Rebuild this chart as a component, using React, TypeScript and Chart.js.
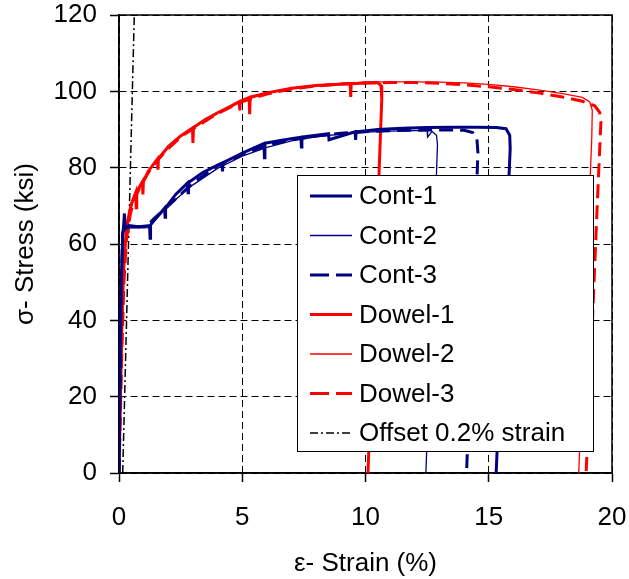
import React, { useEffect, useRef } from 'react';
import { Chart, registerables } from 'chart.js';

Chart.register(...registerables);

// ---- Data (strain %, stress ksi) ----
const cont1Strain = [0, 0.05, 0.1, 0.15, 0.2, 0.22, 0.25, 0.4, 0.8, 1.24, 1.26, 1.28, 1.6, 1.85, 1.87, 1.89, 2.3, 2.78, 2.8, 2.82, 3.4, 4.0, 4.18, 4.2, 4.22, 5.0, 5.88, 5.9, 5.92, 6.6, 7.38, 7.4, 7.42, 8.5, 8.52, 9.58, 9.6, 9.62, 10.5, 11.5, 12.5, 13.5, 14.5, 15.3, 15.7, 15.85, 15.87, 15.3];
const cont1Stress = [0, 30, 52, 62, 66, 68, 64, 64.8, 64.5, 64.8, 61.5, 65, 67.5, 69.4, 67, 69.5, 73, 76, 73.4, 76.1, 78.7, 80.7, 81.2, 79, 81.3, 83.8, 86.3, 82.6, 86.4, 87.2, 88, 85.4, 88, 88.9, 87.3, 89.4, 87.3, 89.4, 90, 90.3, 90.5, 90.6, 90.6, 90.5, 90.2, 88.5, 85, 0];

const cont2Strain = [0, 0.05, 0.12, 0.2, 0.5, 1.2, 1.5, 2.0, 3.0, 4.0, 5.0, 6.0, 7.0, 8.0, 9.0, 10.0, 11.0, 12.0, 12.5, 12.52, 12.7, 12.88, 12.92, 12.45];
const cont2Stress = [0, 35, 60, 64, 64.2, 64.3, 66.5, 70, 75.5, 79.8, 83, 85.3, 87, 88.1, 88.8, 89.3, 89.6, 89.7, 89.7, 88, 89.5, 88.5, 86, 0];

const cont3Strain = [0, 0.08, 0.15, 0.3, 1.1, 1.4, 2.0, 3.0, 4.0, 5.0, 6.0, 7.0, 8.0, 9.0, 10.0, 11.0, 12.0, 13.0, 14.0, 14.35, 14.52, 14.56, 14.1];
const cont3Stress = [0, 45, 63, 64.5, 64.5, 66.5, 70, 76, 80.5, 83.5, 85.8, 87.3, 88.3, 89, 89.4, 89.7, 89.8, 89.9, 89.8, 89.2, 87.5, 84, 0];

const dowel1Strain = [0, 0.06, 0.12, 0.18, 0.25, 0.35, 0.5, 0.68, 0.7, 0.72, 0.95, 0.97, 0.99, 1.2, 1.56, 1.58, 1.6, 2.0, 2.5, 2.98, 3.0, 3.02, 3.5, 4.0, 4.5, 4.88, 4.9, 4.92, 5.28, 5.3, 5.32, 6.0, 7.0, 8.0, 9.38, 9.4, 9.42, 10.0, 10.5, 10.63, 10.66, 10.1];
const dowel1Stress = [0, 20, 40, 52, 60, 66, 70.5, 73.5, 69.5, 73.7, 76.3, 73, 76.4, 79.2, 82.3, 79.5, 82.4, 85.5, 88.3, 90.4, 86.5, 90.5, 92.6, 94.4, 96, 97.3, 95, 97.4, 98.4, 94, 98.5, 99.6, 100.8, 101.5, 102, 98.5, 102, 102.2, 102.3, 101.5, 98, 0];

const dowel2Strain = [0, 0.08, 0.15, 0.22, 0.3, 0.45, 0.6, 0.9, 1.2, 1.5, 2.0, 2.5, 3.0, 4.0, 5.0, 6.0, 7.0, 8.0, 9.0, 10.0, 11.0, 12.0, 13.0, 14.0, 15.0, 16.0, 17.0, 18.0, 18.8, 19.1, 19.2, 19.18, 18.65];
const dowel2Stress = [0, 22, 42, 55, 62, 68, 72, 76, 79, 81.8, 85.3, 88.2, 90.4, 94.3, 97.4, 99.5, 100.8, 101.6, 102.1, 102.4, 102.5, 102.5, 102.4, 102.2, 101.8, 101.2, 100.4, 99.4, 98.4, 97.2, 95, 88, 0];

const dowel3Strain = [0, 0.1, 0.2, 0.3, 0.45, 0.6, 0.9, 1.2, 1.5, 2.0, 2.5, 3.0, 4.0, 5.0, 6.0, 7.0, 8.0, 9.0, 10.0, 11.0, 12.0, 13.0, 14.0, 15.0, 16.0, 17.0, 18.0, 18.8, 19.3, 19.5, 19.55, 19.4, 18.95];
const dowel3Stress = [0, 28, 50, 61, 67.5, 71.5, 75.5, 78.8, 81.5, 85, 88, 90.2, 94.2, 97.3, 99.3, 100.6, 101.4, 101.9, 102.2, 102.3, 102.3, 102.1, 101.7, 101.2, 100.5, 99.6, 98.5, 97.4, 96.2, 94.5, 92, 70, 0];

const offsetStrain = [0.15, 0.62];
const offsetStress = [0, 120];

const seriesLabels = ['Cont-1', 'Cont-2', 'Cont-3', 'Dowel-1', 'Dowel-2', 'Dowel-3', 'Offset 0.2% strain'];
const xTickValues = [0, 5, 10, 15, 20];
const yTickValues = [0, 20, 40, 60, 80, 100, 120];

const NAVY = '#000080';
const RED = '#ff0000';
const FONT = "'Liberation Sans', Arial, sans-serif";

function pts(xs: number[], ys: number[]) {
  return xs.map((x, i) => ({ x, y: ys[i] }));
}

const seriesStyles = [
  { color: NAVY, width: 3, dash: [] as number[], legendDash: [] as number[] },
  { color: NAVY, width: 1.3, dash: [], legendDash: [] },
  { color: NAVY, width: 3, dash: [14, 7], legendDash: [19, 7] },
  { color: RED, width: 3, dash: [], legendDash: [] },
  { color: RED, width: 1.3, dash: [], legendDash: [] },
  { color: RED, width: 3, dash: [14, 7], legendDash: [19, 7] },
  { color: '#000', width: 1.5, dash: [8, 3, 2, 3], legendDash: [8, 3, 2, 3] },
];

const seriesData = [
  pts(cont1Strain, cont1Stress),
  pts(cont2Strain, cont2Stress),
  pts(cont3Strain, cont3Stress),
  pts(dowel1Strain, dowel1Stress),
  pts(dowel2Strain, dowel2Stress),
  pts(dowel3Strain, dowel3Stress),
  pts(offsetStrain, offsetStress),
];

const frameAndLegend = {
  id: 'frameAndLegend',
  beforeDatasetsDraw(chart: any) {
    const { ctx, chartArea: a } = chart;
    ctx.save();
    ctx.strokeStyle = '#000';
    ctx.lineWidth = 1.5;
    ctx.setLineDash([]);
    ctx.strokeRect(a.left, a.top, a.right - a.left, a.bottom - a.top);
    ctx.restore();
  },
  afterDatasetsDraw(chart: any) {
    const { ctx } = chart;
    const bx = 297, by = 175, bw = 296, bh = 276;
    ctx.save();
    ctx.fillStyle = '#fff';
    ctx.fillRect(bx, by, bw, bh);
    ctx.strokeStyle = '#000';
    ctx.lineWidth = 1;
    ctx.strokeRect(bx + 0.5, by + 0.5, bw, bh);
    ctx.font = `26px ${FONT}`;
    ctx.textBaseline = 'middle';
    ctx.textAlign = 'left';
    seriesLabels.forEach((label, i) => {
      const st = seriesStyles[i];
      const cy = 196 + i * 39.5;
      ctx.beginPath();
      ctx.strokeStyle = st.color;
      ctx.lineWidth = st.width;
      ctx.setLineDash(st.legendDash);
      ctx.moveTo(310, cy);
      ctx.lineTo(352, cy);
      ctx.stroke();
      ctx.setLineDash([]);
      ctx.fillStyle = '#000';
      ctx.fillText(label, 359, cy + 1);
    });
    ctx.restore();
  },
};

export default function App() {
  const ref = useRef<HTMLCanvasElement | null>(null);
  useEffect(() => {
    if (!ref.current) return;
    const chart = new Chart(ref.current, {
      type: 'scatter',
      data: {
        datasets: seriesData.map((d, i) => ({
          label: seriesLabels[i],
          data: d,
          showLine: true,
          borderColor: seriesStyles[i].color,
          backgroundColor: seriesStyles[i].color,
          borderWidth: seriesStyles[i].width,
          borderDash: seriesStyles[i].dash,
          pointRadius: 0,
          tension: 0,
          fill: false,
        })),
      },
      options: {
        responsive: false,
        animation: false,
        layout: { padding: { top: 15, right: 17, left: 0, bottom: 0 } },
        plugins: { legend: { display: false }, tooltip: { enabled: false } },
        scales: {
          x: {
            type: 'linear',
            min: 0,
            max: 20,
            afterFit: (s: any) => { s.height = 106; s.paddingLeft = 0; s.paddingRight = 0; s.paddingTop = 0; s.paddingBottom = 0; },
            afterBuildTicks: (s: any) => { s.ticks = xTickValues.map((v) => ({ value: v })); },
            ticks: { font: { family: FONT, size: 26, lineHeight: 1 }, color: '#000', padding: 23, maxRotation: 0, autoSkip: false },
            grid: { color: '#000', lineWidth: 1, tickLength: 9, tickColor: '#000', tickWidth: 1.5, tickBorderDash: [] },
            border: { display: true, color: '#000', width: 1.5, dash: [7, 4] },
            title: { display: true, text: 'ε- Strain (%)', font: { family: FONT, size: 26 }, color: '#000', padding: { top: 0, bottom: 0 } },
          },
          y: {
            type: 'linear',
            min: 0,
            max: 120,
            afterFit: (s: any) => { s.width = 119; s.paddingLeft = 0; s.paddingRight = 0; s.paddingTop = 0; s.paddingBottom = 0; },
            afterBuildTicks: (s: any) => { s.ticks = yTickValues.map((v) => ({ value: v })); },
            ticks: { font: { family: FONT, size: 26, lineHeight: 1 }, color: '#000', padding: 13, autoSkip: false },
            grid: { color: '#000', lineWidth: 1, tickLength: 9, tickColor: '#000', tickWidth: 1.5, tickBorderDash: [] },
            border: { display: true, color: '#000', width: 1.5, dash: [7, 4] },
            title: { display: true, text: 'σ- Stress (ksi)', font: { family: FONT, size: 26 }, color: '#000', padding: { top: 10, bottom: 0 } },
          },
        },
      },
      plugins: [frameAndLegend],
    } as any);
    return () => chart.destroy();
  }, []);
  return (
    <div style={{ position: 'absolute', left: 0, top: 0, width: 629, height: 579, background: '#fff' }}>
      <canvas ref={ref} width={629} height={579} style={{ display: 'block', width: 629, height: 579 }} />
    </div>
  );
}
